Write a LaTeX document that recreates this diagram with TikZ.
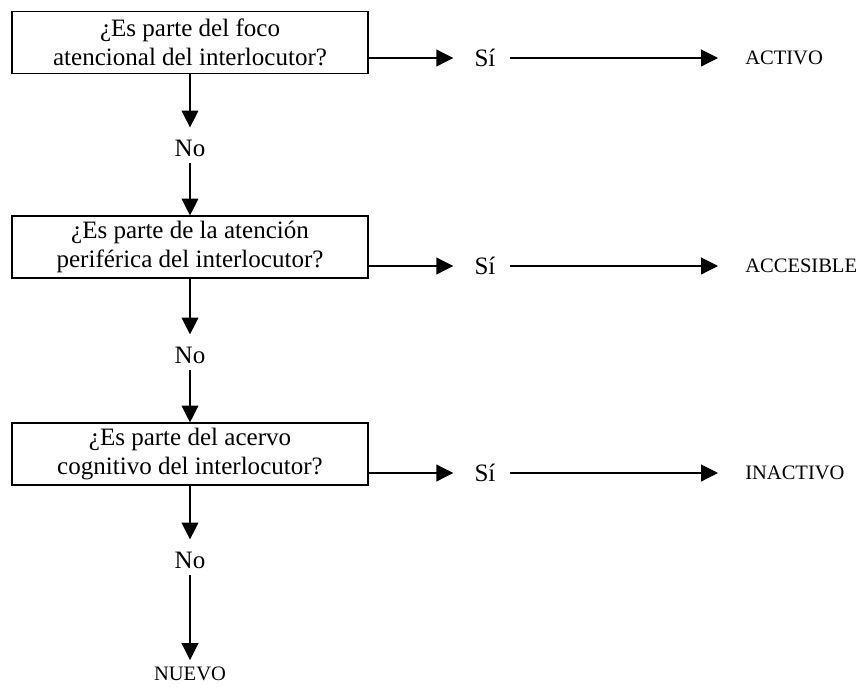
\documentclass[tikz,border=0pt]{standalone}
\usepackage{fontspec}
\setmainfont{Liberation Serif}
\usepackage{tikz}
\usetikzlibrary{arrows.meta}
\usetikzlibrary{shapes.misc}
\tikzstyle{question} = [draw, line width=0.8pt,
	align=center,
	font=\fontsize{17.8}{20.6}\selectfont,
	minimum width = 8.9cm,
	minimum height = 1.55cm]
\tikzstyle{answer} = [font=\fontsize{17.8}{20.6}\selectfont,
	inner xsep=0.35cm, inner ysep=0.15cm]
\tikzstyle{result} = [font=\fontsize{14.6}{17}\selectfont]
\tikzstyle{arrow} =[-{Triangle[length=0.42cm, width=0.42cm]}, line width=0.8pt]

\begin{document}
\begin{tikzpicture}[x=0.025cm, y=-0.025cm]
			\useasboundingbox (0,0) rectangle (856,686);
			
			\node (q1) [question] at (190,42.5) {¿Es parte del foco\\atencional del interlocutor?};
			\node (q2) [question] at (190,247) {¿Es parte de la atención\\periférica del interlocutor?};
			\node (q3) [question] at (190,454) {¿Es parte del acervo\\cognitivo del interlocutor?};
			
			\node (no1) [answer] at (190,148) {No};
			\node (no2) [answer] at (190,355) {No};
			\node (no3) [answer] at (190,560) {No};
			
			\node (si1) [answer] at (485,58) {Sí};
			\node (si2) [answer] at (485,266) {Sí};
			\node (si3) [answer] at (485,473) {Sí};
			
			\node (activo) [result, anchor=west, inner xsep=0.675cm] at (718,58) {ACTIVO};
			\node (accesible) [result, anchor=west, inner xsep=0.675cm] at (718,266) {ACCESIBLE};
			\node (inactivo) [result, anchor=west, inner xsep=0.675cm] at (718,473) {INACTIVO};
			\node (nuevo) [result, anchor=north, inner ysep=0.175cm] at (190,660) {NUEVO};
			
			\draw [arrow, shorten >=0.15cm] (q1) -- (no1);
			\draw [arrow] (no1) -- (q2);
			\draw [arrow, shorten >=0.15cm] (q2) -- (no2);
			\draw [arrow] (no2) -- (q3);
			\draw [arrow, shorten >=0.15cm] (q3) -- (no3);
			\draw [arrow] (no3) -- (nuevo);
			
			\draw [arrow, shorten >=0.175cm] (q1.east |- si1) -- (si1);
			\draw [arrow, shorten >=0.175cm] (q2.east |- si2) -- (si2);
			\draw [arrow, shorten >=0.175cm] (q3.east |- si3) -- (si3);
			\draw [arrow] (si1) -- (activo);
			\draw [arrow] (si2) -- (accesible);
			\draw [arrow] (si3) -- (inactivo);
		\end{tikzpicture}
\end{document}
